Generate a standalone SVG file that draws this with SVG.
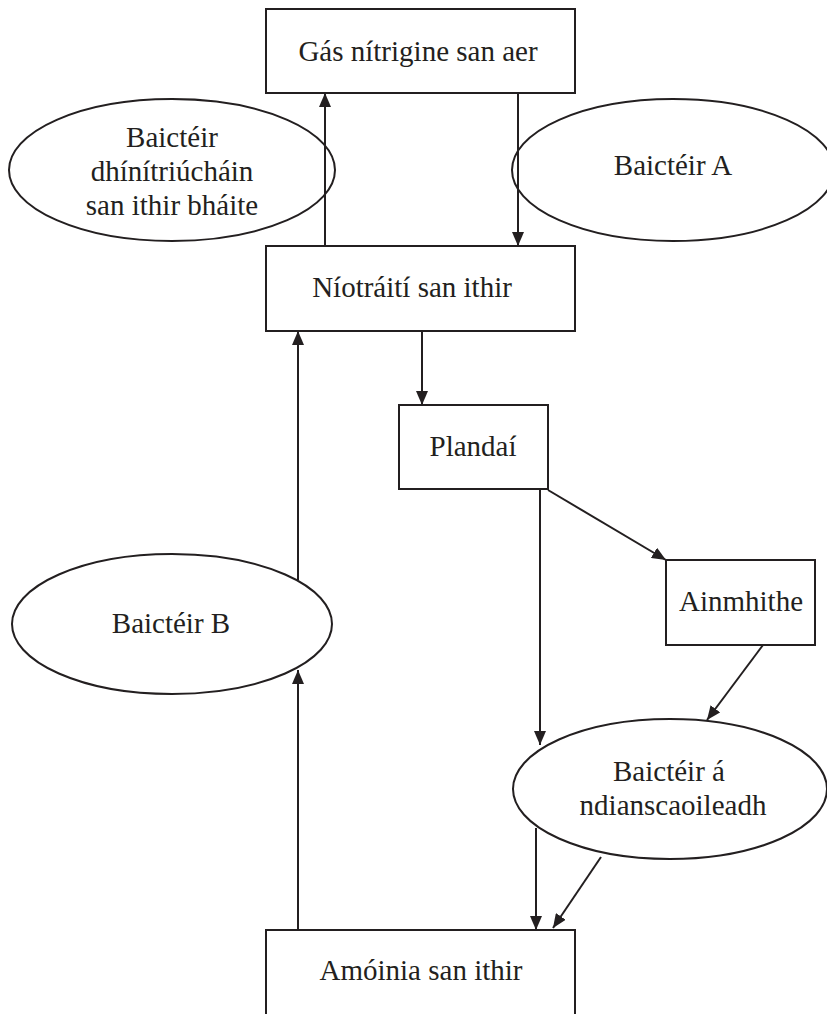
<svg xmlns="http://www.w3.org/2000/svg" width="827" height="1014" viewBox="0 0 827 1014">
<style>
.box{fill:#fff;stroke:#231f20;stroke-width:2}
.ell{fill:#fff;stroke:#231f20;stroke-width:2}
.t{font-family:"Liberation Serif","Times New Roman",serif;font-size:29px;fill:#231f20;text-anchor:middle}
.c{stroke:#231f20;stroke-width:2;fill:none;marker-end:url(#ah)}
</style>
<defs>
<marker id="ah" markerUnits="userSpaceOnUse" markerWidth="14" markerHeight="12" refX="14" refY="6" orient="auto">
<path d="M0,0 L14,6 L0,12 z" fill="#231f20"/>
</marker>
</defs>
<rect width="827" height="1014" fill="#fff"/>
<g id="n-left-ellipse">
<ellipse class="ell" cx="172" cy="170" rx="163" ry="71"/>
<text class="t" x="172" y="147">Baictéir</text>
<text class="t" x="172" y="181">dhínítriúcháin</text>
<text class="t" x="172" y="215">san ithir bháite</text>
</g>
<g id="n-baicteir-a">
<ellipse class="ell" cx="673" cy="170" rx="161" ry="71"/>
<text class="t" x="673" y="175">Baictéir A</text>
</g>
<g id="n-baicteir-b">
<ellipse class="ell" cx="172" cy="624" rx="160" ry="70"/>
<text class="t" x="171" y="633">Baictéir B</text>
</g>
<g id="n-dianscaoileadh">
<ellipse class="ell" cx="670" cy="789" rx="157" ry="70"/>
<text class="t" x="669" y="781">Baictéir á</text>
<text class="t" x="673" y="815">ndianscaoileadh</text>
</g>
<g id="connectors">
<line class="c" x1="325" y1="246" x2="325" y2="93"/>
<line class="c" x1="518" y1="93" x2="518" y2="246"/>
<line class="c" x1="422" y1="331" x2="422" y2="405"/>
<line class="c" x1="548" y1="490" x2="666" y2="560"/>
<line class="c" x1="540" y1="490" x2="540" y2="745"/>
<line class="c" x1="763" y1="645" x2="707" y2="720"/>
<line class="c" x1="536" y1="828" x2="536" y2="930"/>
<line class="c" x1="601" y1="857" x2="553" y2="928"/>
<line class="c" x1="298" y1="930" x2="298" y2="670"/>
<line class="c" x1="298" y1="580" x2="298" y2="331"/>
</g>
<g id="n-gas">
<rect class="box" x="266" y="9" width="309" height="84"/>
<text class="t" x="418" y="61">Gás nítrigine san aer</text>
</g>
<g id="n-niotraiti">
<rect class="box" x="266" y="246" width="309" height="85"/>
<text class="t" x="412" y="297">Níotráití san ithir</text>
</g>
<g id="n-plandai">
<rect class="box" x="399" y="405" width="149" height="84"/>
<text class="t" x="473" y="456">Plandaí</text>
</g>
<g id="n-ainmhithe">
<rect class="box" x="666" y="560" width="149" height="85"/>
<text class="t" x="741" y="611">Ainmhithe</text>
</g>
<g id="n-amoinia">
<rect class="box" x="266" y="930" width="309" height="100"/>
<text class="t" x="421" y="980">Amóinia san ithir</text>
</g>
</svg>
